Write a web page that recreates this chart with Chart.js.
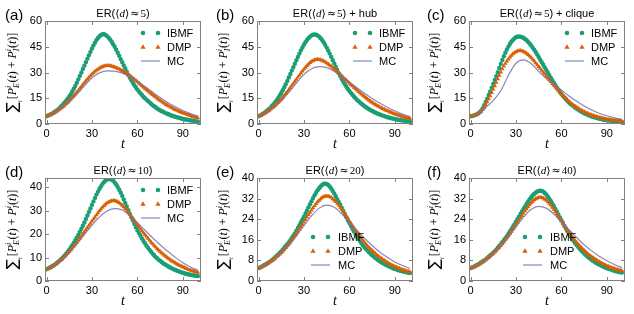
<!DOCTYPE html>
<html>
<head>
<meta charset="utf-8">
<script src="https://cdn.jsdelivr.net/npm/chart.js@4.4.1/dist/chart.umd.min.js"></script>
<style>
  html, body { margin: 0; padding: 0; background: #fff; }
  #wrap { position: relative; width: 634px; height: 314px; }
  #wrap canvas { position: absolute; }
</style>
</head>
<body>
<div id="wrap"></div>
<script>
// time axis for the marker series and for the MC line
const t = [0,1,2,3,4,5,6,7,8,9,10,11,12,13,14,15,16,17,18,19,20,21,22,23,24,25,26,27,28,29,30,
  31,32,33,34,35,36,37,38,39,40,41,42,43,44,45,46,47,48,49,50,51,52,53,54,55,56,57,58,59,60,
  61,62,63,64,65,66,67,68,69,70,71,72,73,74,75,76,77,78,79,80,81,82,83,84,85,86,87,88,89,90,
  91,92,93,94,95,96,97,98,99,100];
const tMC = [0,5,10,15,20,25,30,35,40,45,50,55,60,65,70,75,80,85,90,95,100];

const xTicks = [0, 30, 60, 90];
const yTicks60 = [0, 15, 30, 45, 60];
const yTicks44 = [0, 10, 20, 30, 40];
const yTicks40 = [0, 8, 16, 24, 32, 40];

// (a) ER(<d>=5)
const IBMF_a = [4.5,4.9,5.3,5.7,6.2,6.8,7.4,8.0,8.7,9.6,10.5,
  11.5,12.5,13.6,14.8,16.0,17.4,18.9,20.5,22.2,24.0,
  26.0,28.0,30.0,32.0,34.0,36.0,38.0,40.0,42.0,44.0,
  45.8,47.4,48.9,50.1,51.1,51.9,52.3,52.3,51.9,51.2,
  50.3,49.2,47.9,46.5,45.0,43.3,41.5,39.7,37.8,36.0,
  34.1,32.3,30.4,28.6,27.0,25.5,24.0,22.6,21.3,20.0,
  18.9,17.9,16.9,15.9,15.0,14.2,13.4,12.6,11.8,11.0,
  10.4,9.8,9.1,8.5,8.0,7.5,7.1,6.6,6.2,5.8,
  5.5,5.1,4.8,4.5,4.2,4.0,3.7,3.5,3.2,3.0,
  2.8,2.6,2.5,2.3,2.1,2.0,1.8,1.7,1.5,1.4];
const DMP_a = [4.5,4.9,5.3,5.7,6.1,6.5,7.0,7.6,8.2,8.8,9.5,
  10.2,11.0,11.8,12.6,13.5,14.5,15.5,16.5,17.5,18.5,
  19.6,20.7,21.8,22.9,24.0,25.1,26.1,27.1,28.1,29.0,
  29.8,30.6,31.3,31.9,32.5,33.0,33.4,33.7,33.9,34.0,
  34.0,33.9,33.7,33.4,33.1,32.8,32.4,32.0,31.5,31.0,
  30.5,29.9,29.3,28.7,28.1,27.4,26.7,26.0,25.3,24.6,
  23.8,23.0,22.2,21.4,20.7,20.0,19.2,18.5,17.8,17.1,
  16.4,15.7,15.0,14.3,13.7,13.1,12.5,11.9,11.3,10.8,
  10.3,9.8,9.3,8.8,8.4,8.0,7.6,7.2,6.8,6.5,
  6.1,5.8,5.5,5.2,4.9,4.6,4.3,4.0,3.8,3.5];
const MC_a = [4.5,6.4,9.2,12.9,17.3,22.2,26.8,29.8,31.0,30.8,29.6,27.6,25.0,21.8,18.6,15.4,12.5,10.0,7.9,6.1,4.6];

// (b) ER(<d>=5) + hub
const IBMF_b = [4.5,4.9,5.4,6.0,6.6,7.3,8.0,8.8,9.7,10.6,11.6,
  12.7,13.9,15.2,16.6,18.1,19.7,21.4,23.2,25.1,27.1,
  29.1,31.1,33.1,35.1,37.1,39.1,41.0,42.9,44.6,46.2,
  47.6,48.9,50.0,50.9,51.6,52.0,52.2,52.0,51.6,50.9,
  50.0,48.9,47.6,46.1,44.5,42.8,41.0,39.1,37.2,35.3,
  33.4,31.5,29.6,27.8,26.1,24.6,23.1,21.7,20.4,19.2,
  18.1,17.0,16.0,15.0,14.1,13.3,12.5,11.8,11.1,10.4,
  9.8,9.2,8.6,8.1,7.6,7.1,6.7,6.3,5.9,5.5,
  5.2,4.9,4.6,4.3,4.0,3.8,3.5,3.3,3.1,2.9,
  2.7,2.5,2.4,2.2,2.1,2.0,1.8,1.7,1.6,1.5];
const DMP_b = [4.5,4.9,5.3,5.8,6.2,6.7,7.3,7.9,8.6,9.3,10.0,
  10.8,11.7,12.6,13.5,14.5,15.5,16.6,17.7,18.8,20.0,
  21.2,22.4,23.6,24.8,26.0,27.2,28.4,29.6,30.8,31.9,
  33.0,34.0,34.9,35.7,36.4,36.9,37.3,37.5,37.6,37.5,
  37.3,37.0,36.6,36.1,35.5,34.9,34.3,33.6,32.9,32.1,
  31.3,30.5,29.7,28.8,28.0,27.1,26.3,25.4,24.6,23.8,
  22.9,22.1,21.3,20.5,19.7,18.9,18.1,17.3,16.6,15.9,
  15.2,14.5,13.8,13.2,12.6,12.0,11.4,10.9,10.4,9.9,
  9.4,8.9,8.5,8.1,7.7,7.3,6.9,6.6,6.2,5.9,
  5.6,5.3,5.0,4.7,4.4,4.1,3.9,3.6,3.4,3.2];
const MC_b = [4.5,6.5,9.5,13.5,18.4,23.8,28.8,32.2,33.4,32.8,30.8,27.8,24.4,21.1,17.9,14.9,12.2,9.8,7.7,5.8,4.3];

// (c) ER(<d>=5) + clique
const IBMF_c = [4.5,4.7,4.9,5.2,5.6,6.1,6.8,7.8,9.1,10.9,12.8,
  14.8,16.9,19.0,21.2,23.4,25.6,27.9,30.2,32.6,35.0,
  37.3,39.5,41.5,43.4,45.1,46.6,47.9,49.0,49.9,50.5,
  50.9,51.0,50.9,50.6,50.1,49.5,48.8,47.9,46.9,45.8,
  44.6,43.3,41.9,40.5,39.0,37.5,36.0,34.5,33.0,31.5,
  30.0,28.5,27.0,25.5,24.1,22.7,21.3,20.0,18.7,17.5,
  16.4,15.4,14.4,13.4,12.5,11.7,11.0,10.3,9.6,9.0,
  8.4,7.8,7.3,6.8,6.3,5.9,5.5,5.1,4.8,4.4,
  4.1,3.9,3.6,3.4,3.1,2.9,2.7,2.5,2.4,2.2,
  2.1,2.0,1.9,1.7,1.6,1.5,1.4,1.4,1.3,1.2];
const DMP_c = [4.5,4.6,4.8,5.1,5.5,6.0,6.6,7.4,8.5,9.8,11.3,
  12.9,14.6,16.4,18.3,20.2,22.2,24.2,26.3,28.3,30.2,
  32.0,33.7,35.2,36.6,37.8,38.9,39.9,40.8,41.5,42.1,
  42.5,42.7,42.7,42.5,42.2,41.7,41.1,40.4,39.6,38.7,
  37.7,36.7,35.6,34.5,33.4,32.3,31.2,30.1,29.0,27.9,
  26.8,25.7,24.6,23.5,22.5,21.5,20.5,19.5,18.5,17.6,
  16.6,15.7,14.8,13.9,13.1,12.3,11.6,10.9,10.3,9.7,
  9.1,8.6,8.1,7.6,7.1,6.7,6.3,5.9,5.5,5.2,
  4.9,4.6,4.3,4.0,3.8,3.6,3.4,3.2,3.0,2.8,
  2.6,2.5,2.3,2.2,2.1,2.0,1.9,1.8,1.7,1.6];
const MC_c = [4.5,6.0,9.5,13.6,19.5,28.3,35.4,37.4,35.2,30.5,26.6,23.0,19.8,16.3,13.2,10.5,8.2,6.3,4.8,3.6,2.7];

// (d) ER(<d>=10)
const IBMF_d = [5.0,5.3,5.7,6.0,6.4,6.8,7.3,7.8,8.3,8.9,9.5,
  10.2,10.9,11.7,12.5,13.3,14.3,15.3,16.3,17.4,18.5,
  19.7,21.0,22.3,23.6,25.0,26.5,28.0,29.5,31.0,32.5,
  34.0,35.5,36.9,38.2,39.4,40.5,41.5,42.3,42.9,43.4,
  43.6,43.6,43.3,42.8,42.1,41.2,40.2,39.0,37.7,36.3,
  34.8,33.3,31.8,30.2,28.7,27.2,25.8,24.4,23.0,21.7,
  20.5,19.3,18.2,17.1,16.1,15.1,14.2,13.3,12.5,11.7,
  11.0,10.3,9.7,9.1,8.6,8.1,7.6,7.2,6.8,6.4,
  6.0,5.7,5.3,5.0,4.7,4.5,4.2,4.0,3.7,3.5,
  3.3,3.1,3.0,2.8,2.7,2.5,2.4,2.3,2.2,2.1];
const DMP_d = [5.0,5.3,5.6,5.9,6.3,6.7,7.2,7.7,8.2,8.7,9.2,
  9.8,10.4,11.1,11.8,12.5,13.3,14.1,14.9,15.7,16.5,
  17.4,18.3,19.2,20.1,21.0,21.9,22.8,23.7,24.6,25.5,
  26.4,27.3,28.2,29.1,30.0,30.8,31.5,32.2,32.8,33.3,
  33.7,34.0,34.2,34.3,34.3,34.1,33.8,33.4,32.9,32.3,
  31.6,30.9,30.1,29.3,28.5,27.7,26.8,25.9,25.0,24.1,
  23.2,22.3,21.4,20.6,19.8,19.0,18.2,17.4,16.6,15.9,
  15.2,14.5,13.8,13.2,12.6,12.0,11.4,10.9,10.4,9.9,
  9.4,8.9,8.5,8.1,7.7,7.3,6.9,6.6,6.3,6.0,
  5.7,5.4,5.1,4.8,4.6,4.4,4.2,4.0,3.8,3.6];
const MC_d = [5.0,6.6,9.0,12.1,15.8,19.8,23.8,27.3,29.9,30.9,30.3,28.0,24.9,21.7,18.5,15.5,12.7,10.1,7.8,6.0,4.6];

// (e) ER(<d>=20)
const IBMF_e = [5.0,5.3,5.6,5.9,6.2,6.5,6.9,7.3,7.7,8.2,8.7,
  9.2,9.7,10.3,10.9,11.5,12.2,12.9,13.6,14.3,15.0,
  15.8,16.7,17.6,18.5,19.5,20.6,21.7,22.8,23.9,25.0,
  26.2,27.4,28.6,29.8,31.0,32.2,33.3,34.3,35.2,36.0,
  36.7,37.3,37.7,37.8,37.7,37.3,36.7,35.9,35.0,34.0,
  32.9,31.8,30.7,29.6,28.4,27.2,26.0,24.8,23.6,22.5,
  21.4,20.3,19.3,18.3,17.3,16.4,15.5,14.6,13.8,13.0,
  12.4,11.8,11.2,10.6,10.0,9.5,9.0,8.6,8.1,7.7,
  7.3,7.0,6.6,6.3,6.0,5.7,5.4,5.2,4.9,4.7,
  4.5,4.3,4.1,4.0,3.8,3.7,3.5,3.4,3.2,3.1];
const DMP_e = [4.8,5.1,5.4,5.7,6.0,6.3,6.7,7.1,7.5,7.9,8.4,
  8.9,9.4,9.9,10.4,11.0,11.6,12.3,12.9,13.6,14.3,
  15.1,15.9,16.7,17.5,18.3,19.2,20.1,21.0,21.9,22.8,
  23.8,24.8,25.7,26.6,27.5,28.4,29.2,30.0,30.7,31.3,
  31.9,32.4,32.7,32.9,33.0,32.9,32.7,32.4,31.9,31.4,
  30.8,30.1,29.4,28.6,27.8,26.9,26.0,25.1,24.2,23.3,
  22.4,21.5,20.6,19.7,18.9,18.1,17.3,16.5,15.7,15.0,
  14.3,13.6,13.0,12.4,11.8,11.3,10.7,10.2,9.7,9.2,
  8.8,8.4,8.0,7.6,7.2,6.9,6.5,6.2,5.9,5.6,
  5.4,5.1,4.9,4.6,4.4,4.2,4.0,3.8,3.7,3.5];
const MC_e = [4.8,6.2,8.2,10.7,13.8,17.5,21.5,25.3,28.3,29.5,28.6,26.0,22.9,19.7,16.6,13.8,11.3,9.2,7.4,6.0,4.9];

// (f) ER(<d>=40)
const IBMF_f = [5.0,5.3,5.5,5.8,6.1,6.4,6.8,7.2,7.6,8.0,8.4,
  8.9,9.4,9.9,10.4,11.0,11.6,12.2,12.9,13.6,14.3,
  15.1,15.8,16.6,17.4,18.3,19.2,20.1,21.1,22.0,23.0,
  24.0,25.0,26.0,27.0,28.0,29.0,29.9,30.8,31.7,32.5,
  33.2,33.8,34.3,34.7,35.0,35.1,35.0,34.7,34.2,33.6,
  32.8,32.0,31.1,30.1,29.1,28.0,26.9,25.8,24.7,23.6,
  22.5,21.4,20.4,19.3,18.3,17.4,16.5,15.6,14.8,14.0,
  13.3,12.6,11.9,11.3,10.7,10.2,9.6,9.1,8.7,8.2,
  7.8,7.4,7.0,6.7,6.4,6.1,5.8,5.5,5.2,5.0,
  4.8,4.6,4.4,4.2,4.0,3.8,3.7,3.5,3.4,3.3];
const DMP_f = [4.8,5.1,5.3,5.6,5.9,6.2,6.6,7.0,7.4,7.8,8.2,
  8.7,9.2,9.7,10.2,10.7,11.3,11.9,12.5,13.1,13.8,
  14.5,15.2,16.0,16.7,17.5,18.4,19.2,20.1,20.9,21.8,
  22.7,23.6,24.5,25.4,26.3,27.2,28.0,28.8,29.6,30.3,
  30.9,31.5,31.9,32.2,32.4,32.5,32.4,32.2,31.8,31.4,
  30.8,30.1,29.4,28.6,27.8,26.9,26.0,25.1,24.2,23.3,
  22.4,21.5,20.6,19.7,18.9,18.1,17.3,16.5,15.7,15.0,
  14.3,13.7,13.1,12.5,11.9,11.4,10.8,10.3,9.8,9.4,
  9.0,8.6,8.2,7.8,7.4,7.1,6.8,6.5,6.2,5.9,
  5.7,5.4,5.2,5.0,4.8,4.6,4.4,4.2,4.1,3.9];
const MC_f = [4.8,6.1,8.0,10.5,13.5,17.0,21.0,24.8,27.8,29.0,28.3,26.0,23.0,19.9,16.9,14.1,11.7,9.6,7.9,6.4,5.2];

const seriesNames = ['IBMF', 'DMP', 'MC'];
const colIBMF = '#1b9e77';
const colDMP = '#d95f02';
const colMC = 'rgba(117,112,179,0.85)';

const cols = [
  { x: 0, w: 211, left: 45, right: 201 },
  { x: 211, w: 211, left: 46, right: 202 },
  { x: 422, w: 212, left: 47, right: 203 }
];
const rows = [
  { y: 0, h: 157, top: 21, bottom: 124 },
  { y: 157, h: 157, top: 21, bottom: 124 }
];

const panels = [
  { letter: '(a)', deg: '5', extra: '', ibmf: IBMF_a, dmp: DMP_a, mc: MC_a, yMax: 60, yTicks: yTicks60, legend: 'upper', c: 0, r: 0 },
  { letter: '(b)', deg: '5', extra: ' + hub', ibmf: IBMF_b, dmp: DMP_b, mc: MC_b, yMax: 60, yTicks: yTicks60, legend: 'upper', c: 1, r: 0 },
  { letter: '(c)', deg: '5', extra: ' + clique', ibmf: IBMF_c, dmp: DMP_c, mc: MC_c, yMax: 60, yTicks: yTicks60, legend: 'upper', c: 2, r: 0 },
  { letter: '(d)', deg: '10', extra: '', ibmf: IBMF_d, dmp: DMP_d, mc: MC_d, yMax: 44, yTicks: yTicks44, legend: 'upper', c: 0, r: 1 },
  { letter: '(e)', deg: '20', extra: '', ibmf: IBMF_e, dmp: DMP_e, mc: MC_e, yMax: 40, yTicks: yTicks40, legend: 'lower', c: 1, r: 1 },
  { letter: '(f)', deg: '40', extra: '', ibmf: IBMF_f, dmp: DMP_f, mc: MC_f, yMax: 40, yTicks: yTicks40, legend: 'lower', c: 2, r: 1 }
];

Chart.defaults.font.family = '"Liberation Sans", Arial, sans-serif';
Chart.defaults.font.size = 11;
Chart.defaults.color = '#000';

const SANS = '"Liberation Sans", Arial, sans-serif';
const SERIF = '"Liberation Serif", "DejaVu Serif", serif';

// draw a list of text runs on one baseline; returns the width
function runs(ctx, list, x, y, draw) {
  let cx = x;
  list.forEach(r => {
    ctx.font = r.f;
    if (r.sub !== undefined) {
      const w = Math.max(ctx.measureText(r.sub).width, ctx.measureText(r.sup).width);
      if (draw) {
        ctx.fillText(r.sub, cx, y + 3);
        ctx.fillText(r.sup, cx, y - 5);
      }
      cx += w + 0.5;
    } else {
      if (draw) ctx.fillText(r.t, cx, y + (r.dy || 0));
      cx += ctx.measureText(r.t).width + (r.gap || 0);
    }
  });
  return cx - x;
}

function triangle(ctx, x, y, r) {
  ctx.beginPath();
  ctx.moveTo(x, y - r * 1.1);
  ctx.lineTo(x + r, y + r * 0.7);
  ctx.lineTo(x - r, y + r * 0.7);
  ctx.closePath();
  ctx.fill();
}

function decorFor(p) {
  return {
    id: 'decor',
    afterDraw(chart) {
      const ctx = chart.ctx;
      const a = chart.chartArea;
      const xs = chart.scales.x, ys = chart.scales.y;
      ctx.save();

      // frame and inward ticks
      ctx.strokeStyle = '#808080';
      ctx.lineWidth = 1;
      ctx.strokeRect(a.left + 0.5, a.top + 0.5, a.right - a.left - 1, a.bottom - a.top - 1);
      ctx.beginPath();
      xTicks.forEach(v => {
        const px = Math.round(xs.getPixelForValue(v)) + 0.5;
        ctx.moveTo(px, a.bottom); ctx.lineTo(px, a.bottom - 4);
        ctx.moveTo(px, a.top); ctx.lineTo(px, a.top + 4);
      });
      p.yTicks.forEach(v => {
        const py = Math.round(ys.getPixelForValue(v)) + 0.5;
        ctx.moveTo(a.left, py); ctx.lineTo(a.left + 4, py);
        ctx.moveTo(a.right, py); ctx.lineTo(a.right - 4, py);
      });
      ctx.stroke();

      ctx.fillStyle = '#000';
      ctx.textBaseline = 'alphabetic';
      ctx.textAlign = 'left';

      // panel letter
      ctx.font = '15px ' + SANS;
      ctx.fillText(p.letter, 5, 20);

      // title
      const title = [
        { t: 'ER(', f: '11px ' + SANS },
        { t: '\u27e8', f: '11px "DejaVu Serif", serif' },
        { t: 'd', f: 'italic 11px ' + SERIF },
        { t: '\u27e9', f: '11px "DejaVu Serif", serif', gap: 1 },
        { t: '\u2248', f: '11px "DejaVu Serif", serif', gap: 1 },
        { t: p.deg, f: '11px ' + SERIF },
        { t: ')' + p.extra, f: '11px ' + SANS }
      ];
      const tw = runs(ctx, title, 0, 0, false);
      runs(ctx, title, (a.left + a.right) / 2 - tw / 2, 17, true);

      // x label
      ctx.font = 'italic 14px ' + SERIF;
      ctx.textAlign = 'center';
      ctx.fillText('t', (a.left + a.right) / 2, 148);
      ctx.textAlign = 'left';

      // y label (rotated)
      const ylab = [
        { t: '\u2211', f: '15px "DejaVu Sans", sans-serif', dy: 1 },
        { t: 'i', f: 'italic 7px ' + SERIF, dy: 6, gap: 1 },
        { t: '[', f: '12px ' + SERIF },
        { t: 'P', f: 'italic 12px ' + SERIF },
        { sub: 'E', sup: 'i', f: 'italic 8px ' + SERIF },
        { t: '(', f: '12px ' + SERIF },
        { t: 't', f: 'italic 12px ' + SERIF },
        { t: ') + ', f: '12px ' + SERIF },
        { t: 'P', f: 'italic 12px ' + SERIF },
        { sub: 'I', sup: 'i', f: 'italic 8px ' + SERIF },
        { t: '(', f: '12px ' + SERIF },
        { t: 't', f: 'italic 12px ' + SERIF },
        { t: ')]', f: '12px ' + SERIF }
      ];
      const yw = runs(ctx, ylab, 0, 0, false);
      ctx.save();
      ctx.translate(16, (a.top + a.bottom) / 2);
      ctx.rotate(-Math.PI / 2);
      runs(ctx, ylab, -yw / 2, 0, true);
      ctx.restore();

      // legend
      let m1, m2, tx, ry;
      if (p.legend === 'upper') {
        m1 = a.right - 58; m2 = a.right - 43; tx = a.right - 34; ry = [33, 47, 61];
      } else {
        m1 = a.left + 56; m2 = a.left + 71; tx = a.left + 81; ry = [80, 94, 108];
      }
      ctx.fillStyle = colIBMF;
      [m1, m2].forEach(mx => { ctx.beginPath(); ctx.arc(mx, ry[0], 2.3, 0, Math.PI * 2); ctx.fill(); });
      ctx.fillStyle = colDMP;
      [m1, m2].forEach(mx => triangle(ctx, mx, ry[1], 2.6));
      ctx.strokeStyle = colMC;
      ctx.lineWidth = 1.2;
      ctx.beginPath(); ctx.moveTo(m1 - 2, ry[2]); ctx.lineTo(m2 + 2, ry[2]); ctx.stroke();
      ctx.fillStyle = '#000';
      ctx.font = '11px ' + SANS;
      ctx.textBaseline = 'middle';
      seriesNames.forEach((s, i) => ctx.fillText(s, tx, ry[i] + 0.5));

      ctx.restore();
    }
  };
}

const wrap = document.getElementById('wrap');
panels.forEach(p => {
  const col = cols[p.c], row = rows[p.r];
  const cv = document.createElement('canvas');
  cv.width = col.w; cv.height = row.h;
  cv.style.left = col.x + 'px'; cv.style.top = row.y + 'px';
  cv.style.width = col.w + 'px'; cv.style.height = row.h + 'px';
  wrap.appendChild(cv);

  new Chart(cv, {
    type: 'scatter',
    data: {
      datasets: [
        {
          label: 'MC',
          data: tMC.map((x, i) => ({ x: x, y: p.mc[i] })),
          showLine: true,
          borderColor: colMC,
          borderWidth: 1.2,
          pointRadius: 0,
          cubicInterpolationMode: 'monotone',
          fill: false
        },
        {
          label: 'DMP',
          data: t.map((x, i) => ({ x: x, y: p.dmp[i] })),
          pointStyle: 'triangle',
          pointRadius: 2.6,
          backgroundColor: colDMP,
          borderColor: colDMP,
          borderWidth: 0
        },
        {
          label: 'IBMF',
          data: t.map((x, i) => ({ x: x, y: p.ibmf[i] })),
          pointStyle: 'circle',
          pointRadius: 2.2,
          backgroundColor: colIBMF,
          borderColor: colIBMF,
          borderWidth: 0
        }
      ]
    },
    options: {
      responsive: false,
      animation: false,
      devicePixelRatio: 1,
      events: [],
      layout: { padding: { top: row.top, right: col.w - col.right, left: 0, bottom: 0 } },
      plugins: { legend: { display: false }, tooltip: { enabled: false } },
      scales: {
        x: {
          type: 'linear', min: -1, max: 102,
          grid: { display: false, drawTicks: false },
          border: { display: false },
          ticks: { padding: 3, maxRotation: 0, autoSkip: false, color: '#000' },
          afterBuildTicks: s => { s.ticks = xTicks.map(v => ({ value: v })); },
          afterFit: s => { s.height = row.h - row.bottom; }
        },
        y: {
          type: 'linear', min: 0, max: p.yMax,
          grid: { display: false, drawTicks: false },
          border: { display: false },
          ticks: { padding: 3, autoSkip: false, color: '#000' },
          afterBuildTicks: s => { s.ticks = p.yTicks.map(v => ({ value: v })); },
          afterFit: s => { s.width = col.left; }
        }
      }
    },
    plugins: [decorFor(p)]
  });
});
</script>
</body>
</html>
